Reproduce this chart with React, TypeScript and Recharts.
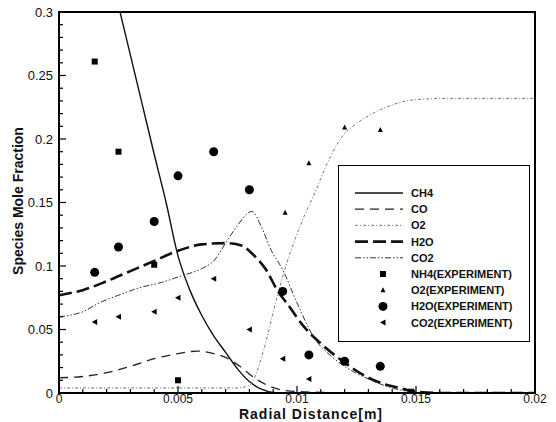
import { ComposedChart, Line, Scatter, XAxis, YAxis, ReferenceArea } from 'recharts'

// axis ticks
const xTicks = [0, 0.001, 0.002, 0.003, 0.004, 0.005, 0.006, 0.007, 0.008, 0.009, 0.01, 0.011, 0.012, 0.013, 0.014, 0.015, 0.016, 0.017, 0.018, 0.019, 0.02]
const xMajor = [0, 0.005, 0.01, 0.015, 0.02]
const xLabels = ['0', '0.005', '0.01', '0.015', '0.02']
const yTicks = [0, 0.01, 0.02, 0.03, 0.04, 0.05, 0.06, 0.07, 0.08, 0.09, 0.1, 0.11, 0.12, 0.13, 0.14, 0.15, 0.16, 0.17, 0.18, 0.19, 0.2, 0.21, 0.22, 0.23, 0.24, 0.25, 0.26, 0.27, 0.28, 0.29, 0.3]
const yMajor = [0, 0.05, 0.1, 0.15, 0.2, 0.25, 0.3]
const yLabels = ['0', '0.05', '0.1', '0.15', '0.2', '0.25', '0.3']

// simulated profiles [radial distance m, mole fraction]
const ch4 = [[0.0022, 0.328], [0.0025, 0.305], [0.003, 0.266], [0.0035, 0.227], [0.004, 0.188], [0.0045, 0.15], [0.005, 0.108], [0.0055, 0.081], [0.006, 0.061], [0.0065, 0.045], [0.007, 0.032], [0.0075, 0.019], [0.008, 0.009], [0.0085, 0.003], [0.009, 0.0005], [0.0095, 0], [0.012, 0], [0.016, 0], [0.02, 0]]
const co = [[0, 0.012], [0.001, 0.013], [0.002, 0.016], [0.003, 0.021], [0.004, 0.027], [0.005, 0.031], [0.0058, 0.033], [0.0065, 0.031], [0.007, 0.028], [0.0076, 0.021], [0.0082, 0.012], [0.0089, 0.005], [0.0095, 0.002], [0.011, 0.0005], [0.013, 0], [0.02, 0]]
const o2 = [[0, 0.004], [0.002, 0.004], [0.004, 0.004], [0.006, 0.004], [0.0075, 0.004], [0.008, 0.006], [0.0086, 0.034], [0.0091, 0.071], [0.0095, 0.098], [0.0101, 0.13], [0.0108, 0.16], [0.0114, 0.186], [0.0119, 0.202], [0.0125, 0.212], [0.0135, 0.223], [0.015, 0.231], [0.0165, 0.232], [0.02, 0.232]]
const h2o = [[0, 0.077], [0.001, 0.081], [0.002, 0.088], [0.003, 0.096], [0.004, 0.104], [0.005, 0.112], [0.006, 0.117], [0.007, 0.118], [0.0077, 0.116], [0.0081, 0.11], [0.0087, 0.097], [0.0092, 0.08], [0.0096, 0.07], [0.0103, 0.052], [0.011, 0.039], [0.012, 0.024], [0.0128, 0.014], [0.0135, 0.008], [0.0143, 0.004], [0.015, 0.001], [0.016, 0], [0.02, 0]]
const co2 = [[0, 0.06], [0.001, 0.064], [0.0017, 0.071], [0.0025, 0.077], [0.0034, 0.083], [0.0043, 0.087], [0.0051, 0.092], [0.006, 0.098], [0.0065, 0.104], [0.007, 0.118], [0.0075, 0.132], [0.0081, 0.143], [0.0085, 0.131], [0.0089, 0.113], [0.0094, 0.097], [0.01, 0.071], [0.0107, 0.044], [0.0115, 0.028], [0.012, 0.021], [0.013, 0.011], [0.014, 0.004], [0.0148, 0.001], [0.016, 0], [0.02, 0]]

// experiment
const nh4Exp = [[0.0015, 0.261], [0.0025, 0.19], [0.004, 0.101], [0.005, 0.01], [0.0148, 0.001]]
const o2Exp = [[0.0095, 0.142], [0.0105, 0.181], [0.012, 0.209], [0.0135, 0.207]]
const h2oExp = [[0.0015, 0.095], [0.0025, 0.115], [0.004, 0.135], [0.005, 0.171], [0.0065, 0.19], [0.008, 0.16], [0.0094, 0.08], [0.0105, 0.03], [0.012, 0.025], [0.0135, 0.021]]
const co2Exp = [[0.0015, 0.056], [0.0025, 0.06], [0.004, 0.064], [0.005, 0.075], [0.0065, 0.09], [0.008, 0.05], [0.0094, 0.027], [0.0105, 0.011]]

const pts = (arr: number[][]) => arr.map(([x, y]) => ({ x, y }))

const FONT = 'Arial, "Liberation Sans", sans-serif'

const STYLES = {
  ch4: { stroke: '#111', strokeWidth: 1.4, dash: undefined as string | undefined },
  co: { stroke: '#222', strokeWidth: 1.3, dash: '9 6' },
  o2: { stroke: '#777', strokeWidth: 1, dash: '3 2 1 2' },
  h2o: { stroke: '#111', strokeWidth: 2.6, dash: '13 5' },
  co2: { stroke: '#333', strokeWidth: 1, dash: '6 2 1.5 2 1.5 2' },
}

function XTick(props: any) {
  const { x, y, payload } = props
  const i = xMajor.indexOf(payload.value)
  const axisY = y - 2
  return (
    <g>
      <line x1={x} x2={x} y1={axisY} y2={axisY - (i >= 0 ? 7 : 4)} stroke="#000" strokeWidth={1.2} />
      {i >= 0 && (
        <text x={x} y={axisY + 10} textAnchor="middle" fontSize={12} fontFamily={FONT} fill="#111">
          {xLabels[i]}
        </text>
      )}
    </g>
  )
}

function YTick(props: any) {
  const { x, y, payload } = props
  const i = yMajor.indexOf(payload.value)
  const axisX = x + 6
  return (
    <g>
      <line x1={axisX} x2={axisX + (i >= 0 ? 7 : 4)} y1={y} y2={y} stroke="#000" strokeWidth={1.2} />
      {i >= 0 && (
        <text x={axisX - 6} y={y + 4.5} textAnchor="end" fontSize={13} fontFamily={FONT} fill="#111">
          {yLabels[i]}
        </text>
      )}
    </g>
  )
}

const Square = (p: any) => <rect x={p.cx - 3} y={p.cy - 3} width={6} height={6} fill="#000" />
const UpTri = (p: any) => <path d={`M${p.cx},${p.cy - 3}L${p.cx + 2.5},${p.cy + 2}L${p.cx - 2.5},${p.cy + 2}Z`} fill="#000" />
const Dot = (p: any) => <circle cx={p.cx} cy={p.cy} r={4.5} fill="#000" />
const LeftTri = (p: any) => <path d={`M${p.cx - 3},${p.cy}L${p.cx + 2.5},${p.cy - 3}L${p.cx + 2.5},${p.cy + 3}Z`} fill="#000" />

const legendLines = [
  { name: 'CH4', s: STYLES.ch4 },
  { name: 'CO', s: STYLES.co },
  { name: 'O2', s: STYLES.o2 },
  { name: 'H2O', s: STYLES.h2o },
  { name: 'CO2', s: STYLES.co2 },
]
const legendMarks = [
  { name: 'NH4(EXPERIMENT)', M: Square },
  { name: 'O2(EXPERIMENT)', M: UpTri },
  { name: 'H2O(EXPERIMENT)', M: Dot },
  { name: 'CO2(EXPERIMENT)', M: LeftTri },
]

function LegendBox() {
  const rowH = 16.2
  return (
    <svg width={193} height={178} style={{ position: 'absolute', left: 338, top: 165 }}>
      <rect x={0.5} y={0.5} width={191} height={176} fill="#fff" stroke="#000" strokeWidth={1} />
      {legendLines.map((e, i) => {
        const cy = 28 + i * rowH
        return (
          <g key={e.name}>
            <line x1={17} x2={65} y1={cy} y2={cy} stroke={e.s.stroke} strokeWidth={e.s.strokeWidth} strokeDasharray={e.s.dash} />
            <text x={73} y={cy + 4} fontSize={11} fontWeight="bold" fontFamily={FONT} fill="#111">{e.name}</text>
          </g>
        )
      })}
      {legendMarks.map((e, i) => {
        const cy = 28 + (i + 5) * rowH
        return (
          <g key={e.name}>
            <e.M cx={45} cy={cy} />
            <text x={73} y={cy + 4} fontSize={11} fontWeight="bold" fontFamily={FONT} fill="#111">{e.name}</text>
          </g>
        )
      })}
    </svg>
  )
}

export default function App() {
  const line = (key: string, data: number[][], s: typeof STYLES.ch4) => (
    <Line
      key={key}
      data={pts(data)}
      dataKey="y"
      type="monotone"
      dot={false}
      activeDot={false}
      stroke={s.stroke}
      strokeWidth={s.strokeWidth}
      strokeDasharray={s.dash}
      isAnimationActive={false}
    />
  )
  return (
    <div style={{ position: 'absolute', left: 0, top: 0, width: 556, height: 422, background: '#fff', fontFamily: FONT }}>
      <ComposedChart width={556} height={422} margin={{ top: 12, right: 21, bottom: 0, left: 0 }}>
        <XAxis
          dataKey="x"
          type="number"
          domain={[0, 0.02]}
          allowDataOverflow
          ticks={xTicks}
          interval={0}
          tick={<XTick />}
          tickLine={false}
          tickSize={0}
          tickMargin={2}
          height={29}
          axisLine={{ stroke: '#000', strokeWidth: 2 }}
        />
        <YAxis
          dataKey="y"
          type="number"
          domain={[0, 0.3]}
          allowDataOverflow
          ticks={yTicks}
          interval={0}
          tick={<YTick />}
          tickLine={false}
          tickSize={0}
          tickMargin={6}
          width={59}
          axisLine={{ stroke: '#000', strokeWidth: 2 }}
        />
        <ReferenceArea x1={0} x2={0.02} y1={0} y2={0.3} fill="none" fillOpacity={0} stroke="#000" strokeWidth={2} />
        {line('ch4', ch4, STYLES.ch4)}
        {line('co', co, STYLES.co)}
        {line('o2', o2, STYLES.o2)}
        {line('h2o', h2o, STYLES.h2o)}
        {line('co2', co2, STYLES.co2)}
        <Scatter data={pts(nh4Exp)} dataKey="y" shape={Square} isAnimationActive={false} />
        <Scatter data={pts(o2Exp)} dataKey="y" shape={UpTri} isAnimationActive={false} />
        <Scatter data={pts(h2oExp)} dataKey="y" shape={Dot} isAnimationActive={false} />
        <Scatter data={pts(co2Exp)} dataKey="y" shape={LeftTri} isAnimationActive={false} />
      </ComposedChart>
      <LegendBox />
      <div style={{ position: 'absolute', left: 211, top: 405.7, width: 200, height: 16, textAlign: 'center', fontSize: 14, fontWeight: 'bold', letterSpacing: 1, color: '#111', lineHeight: '16px' }}>
        Radial Distance[m]
      </div>
      <div style={{ position: 'absolute', left: 18, top: 201, width: 0, height: 0 }}>
        <div style={{ position: 'absolute', left: -100, top: -9, width: 200, textAlign: 'center', fontSize: 14, fontWeight: 'bold', color: '#111', lineHeight: '18px', transform: 'rotate(-90deg)' }}>
          Species Mole Fraction
        </div>
      </div>
    </div>
  )
}
